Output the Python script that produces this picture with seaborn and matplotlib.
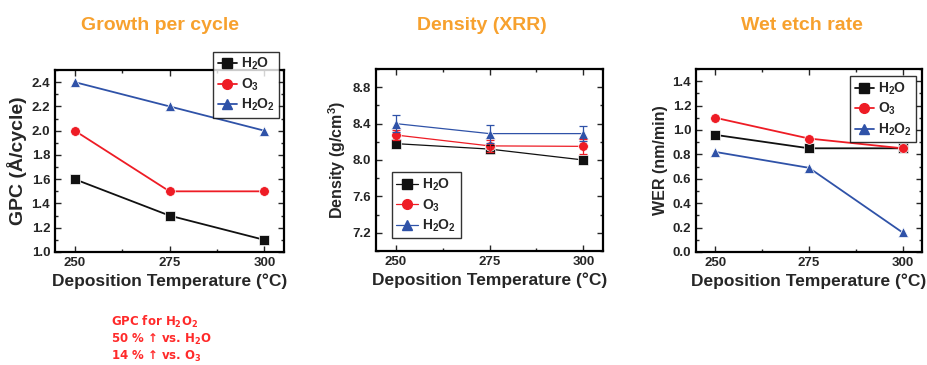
import numpy as np
import pandas as pd
import matplotlib
matplotlib.use("Agg")
import matplotlib.pyplot as plt
from matplotlib.ticker import MultipleLocator, AutoMinorLocator, FormatStrFormatter
from matplotlib.lines import Line2D
import seaborn as sns

# ---------------- data ----------------
temps = [250, 275, 300]
series = ["H2O", "O3", "H2O2"]
labels = [r"$\mathbf{H_2O}$", r"$\mathbf{O_3}$", r"$\mathbf{H_2O_2}$"]

gpc_h2o = [1.6, 1.3, 1.1]
gpc_o3 = [2.0, 1.5, 1.5]
gpc_h2o2 = [2.4, 2.2, 2.0]

den_h2o = [8.18, 8.12, 8.00]
den_o3 = [8.275, 8.155, 8.15]
den_h2o2 = [8.40, 8.29, 8.29]
den_err_h2o = [0.04, 0.04, 0.015]
den_err_o3 = [0.06, 0.07, 0.08]
den_err_h2o2 = [0.09, 0.10, 0.08]

wer_h2o = [0.96, 0.85, 0.85]
wer_o3 = [1.10, 0.93, 0.85]
wer_h2o2 = [0.82, 0.69, 0.16]

titles = ["Growth per cycle", "Density (XRR)", "Wet etch rate"]
ylabels = ["GPC (Å/cycle)", r"Density (g/cm$^\mathbf{3}$)", "WER (nm/min)"]
xlabel = "Deposition Temperature (°C)"
note_lines = [r"GPC for H$_\mathbf{2}$O$_\mathbf{2}$",
              r"50 % ↑ vs. H$_\mathbf{2}$O",
              r"14 % ↑ vs. O$_\mathbf{3}$"]

# ---------------- style ----------------
sns.set_style("ticks")
plt.rcParams["font.family"] = ["Liberation Sans", "DejaVu Sans"]
plt.rcParams["font.weight"] = "bold"
plt.rcParams["mathtext.fontset"] = "custom"
plt.rcParams["mathtext.rm"] = "Liberation Sans:bold"
plt.rcParams["mathtext.bf"] = "Liberation Sans:bold"
plt.rcParams["mathtext.it"] = "Liberation Sans:bold"
plt.rcParams["mathtext.default"] = "bf"

colors = {"H2O": "#111111", "O3": "#EE1C25", "H2O2": "#2F52A8"}
markers = {"H2O": "s", "O3": "o", "H2O2": "^"}
orange = "#F7A12E"

def long_df(vals):
    rows = []
    for s, v in zip(series, vals):
        for t, y in zip(temps, v):
            rows.append({"T": t, "val": y, "series": s})
    return pd.DataFrame(rows)

fig = plt.figure(figsize=(9.28, 3.65), dpi=100)
positions = [
    [55/928, 113/365, 229/928, 182/365],
    [376/928, 114/365, 227/928, 182/365],
    [696/928, 113/365, 226/928, 183/365],
]
datasets = [
    [gpc_h2o, gpc_o3, gpc_h2o2],
    [den_h2o, den_o3, den_h2o2],
    [wer_h2o, wer_o3, wer_h2o2],
]
ylims = [(1.0, 2.5), (7.0, 9.0), (0.0, 1.5)]
ymajor = [0.2, 0.4, 0.2]
lws = [1.3, 0.9, 1.3]
ylabel_sizes = [14, 11.5, 11.5]

for i in range(3):
    ax = fig.add_axes(positions[i])
    df = long_df(datasets[i])
    sns.lineplot(data=df, x="T", y="val", hue="series", style="series",
                 hue_order=series, style_order=series,
                 palette=colors, markers=markers, dashes=False,
                 markersize=7, markeredgewidth=0.5, linewidth=lws[i],
                 ax=ax, legend=False)
    if i == 1:
        errs = [den_err_h2o, den_err_o3, den_err_h2o2]
        for s, v, e in zip(series, datasets[i], errs):
            ax.errorbar(temps, v, yerr=e, fmt="none", ecolor=colors[s],
                        elinewidth=0.9, capsize=3, capthick=0.9)
    ax.set_xlim(244.8, 305.2)
    ax.set_ylim(*ylims[i])
    ax.set_xticks(temps)
    ax.xaxis.set_minor_locator(AutoMinorLocator(2))
    ax.yaxis.set_major_locator(MultipleLocator(ymajor[i]))
    ax.yaxis.set_minor_locator(AutoMinorLocator(2))
    ax.yaxis.set_major_formatter(FormatStrFormatter("%.1f"))
    ax.tick_params(which="both", direction="in", top=True, right=True,
                   width=1.0, labelsize=9.5)
    ax.tick_params(which="major", length=4)
    ax.tick_params(which="minor", length=2.5)
    for sp in ax.spines.values():
        sp.set_linewidth(1.6)
        sp.set_color("black")
    for lab in ax.get_xticklabels() + ax.get_yticklabels():
        lab.set_fontweight("bold")
    ax.set_xlabel(xlabel, fontsize=12.5, fontweight="bold", labelpad=3)
    ax.set_ylabel(ylabels[i], fontsize=ylabel_sizes[i], fontweight="bold",
                  labelpad=3)

    handles = [Line2D([], [], color=colors[s], marker=markers[s], markersize=7,
                      linewidth=lws[i]) for s in series]
    common = dict(fontsize=10, frameon=True, fancybox=False, edgecolor="black",
                  handletextpad=0.3, borderpad=0.3, labelspacing=0.3,
                  borderaxespad=0.0)
    if i == 0:
        leg = ax.legend(handles, labels, loc="upper right",
                        bbox_to_anchor=(0.98, 1.10), handlelength=1.4, **common)
    elif i == 1:
        leg = ax.legend(handles, labels, loc="lower left",
                        bbox_to_anchor=(0.07, 0.07), handlelength=1.6, **common)
    else:
        leg = ax.legend(handles, labels, loc="upper right",
                        bbox_to_anchor=(0.975, 0.96), handlelength=1.4, **common)
    leg.get_frame().set_linewidth(1.0)

title_x = [160/928, 482/928, 802/928]
for tx, t in zip(title_x, titles):
    fig.text(tx, 1 - 26/365, t, color=orange, fontsize=14, fontweight="bold",
             ha="center", va="center")

for k, line in enumerate(note_lines):
    fig.text(111/928, 1 - (322 + 17*k)/365, line, color="#FF2A2A",
             fontsize=8.5, fontweight="bold", ha="left", va="center",
             family="DejaVu Sans", math_fontfamily="dejavusans")

fig.savefig("out.png", dpi=100)
